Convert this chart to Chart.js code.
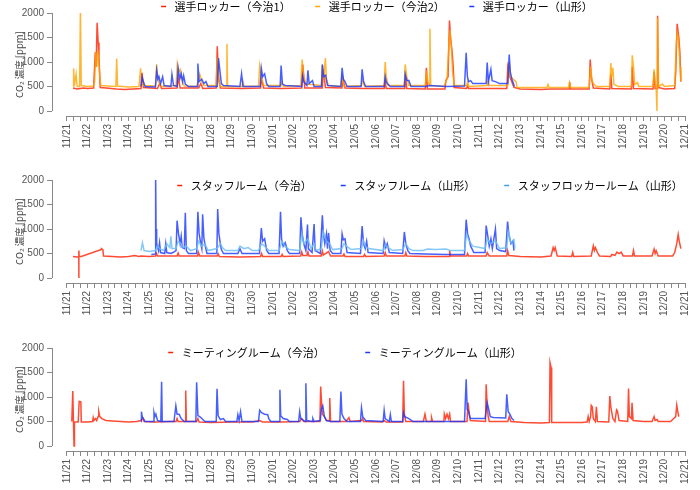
<!DOCTYPE html>
<html>
<head>
<meta charset="utf-8">
<script src="https://cdn.jsdelivr.net/npm/chart.js@4.4.1/dist/chart.umd.min.js"></script>
<style>
  html, body { margin: 0; padding: 0; background: #fff; }
  #wrap { position: relative; width: 700px; height: 490px; overflow: hidden; }
  .panel { position: absolute; left: 0; width: 700px; height: 163px; }
</style>
</head>
<body>
<div id="wrap">
  <div class="panel" style="top:0px"><canvas id="c1" width="700" height="163"></canvas></div>
  <div class="panel" style="top:167px"><canvas id="c2" width="700" height="163"></canvas></div>
  <div class="panel" style="top:335px"><canvas id="c3" width="700" height="163"></canvas></div>
</div>
<script>
// x = days since 11/21 00:00, y = ppm
const dateLabels = ['11/21','11/22','11/23','11/24','11/25','11/26','11/27','11/28','11/29','11/30',
  '12/01','12/02','12/03','12/04','12/05','12/06','12/07','12/08','12/09','12/10',
  '12/11','12/12','12/13','12/14','12/15','12/16','12/17','12/18','12/19','12/20','12/21'];
const yTicks = [0, 500, 1000, 1500, 2000];

// panel 1 : 選手ロッカー
const lockerImabari1 = [[0.3,470],[0.5,450],[0.8,470],[1.0,460],[1.3,470],[1.38,1200],[1.42,900],[1.47,1800],[1.52,1400],[1.56,1100],[1.62,480],
  [1.9,470],[2.4,450],[2.8,440],[3.2,450],[3.6,460],[3.65,780],[3.72,480],[4.4,460],[4.5,560],[4.6,460],[5.35,470],[5.4,680],[5.5,470],
  [6.4,470],[6.5,560],[6.6,460],[7.25,470],[7.3,1320],[7.36,700],[7.45,470],[8.5,460],[9.4,470],[9.45,650],[9.55,470],[10.4,460],
  [11.4,470],[11.45,950],[11.55,470],[12.4,470],[12.45,850],[12.55,480],[13.35,470],[13.4,650],[13.5,470],[14.4,460],[15.4,460],[15.45,600],
  [15.5,460],[16.4,460],[16.45,650],[16.5,460],[17.4,450],[17.45,880],[17.5,450],[18.35,450],[18.4,630],[18.5,700],[18.57,1845],[18.62,1500],
  [18.7,1200],[18.75,900],[18.8,480],[19.4,460],[19.45,520],[19.5,460],[20.4,460],[21.35,460],[21.4,900],[21.5,700],[21.7,480],[22.0,450],
  [23.0,440],[23.5,450],[24.38,450],[24.4,590],[24.45,450],[25.35,450],[25.4,1050],[25.45,700],[25.55,470],[26.35,450],[26.4,750],[26.45,460],
  [27.4,450],[27.44,900],[27.5,460],[28.45,450],[28.5,800],[28.55,460],[28.65,460],[28.67,1945],[28.7,480],[29.0,450],[29.5,460],
  [29.55,800],[29.62,1780],[29.7,1500],[29.75,1200],[29.8,600]];
const lockerImabari2 = [[0.3,500],[0.33,870],[0.37,520],[0.45,750],[0.5,500],[0.62,500],[0.66,2080],[0.7,520],[1.0,500],[1.3,510],[1.35,600],
  [1.4,1200],[1.45,900],[1.5,1250],[1.55,1000],[1.6,700],[1.65,520],[2.0,510],[2.38,500],[2.42,1070],[2.46,510],[3.0,490],[3.5,500],[3.58,870],
  [3.62,600],[3.7,520],[4.3,510],[4.36,950],[4.42,650],[4.5,560],[4.6,500],[5.3,520],[5.36,950],[5.42,800],[5.5,850],[5.6,600],[5.7,510],
  [6.3,500],[6.45,750],[6.55,600],[6.65,520],[7.25,520],[7.3,1080],[7.36,650],[7.45,500],[7.74,500],[7.77,1370],[7.8,500],[8.5,500],[8.55,600],
  [8.6,500],[9.3,510],[9.36,930],[9.45,700],[9.55,520],[10.4,520],[10.45,600],[10.5,500],[11.35,520],[11.42,1050],[11.48,750],[11.6,550],
  [12.35,520],[12.4,950],[12.47,700],[12.55,1080],[12.6,650],[12.7,520],[13.3,500],[13.35,700],[13.45,500],[14.3,520],[14.35,620],[14.45,500],
  [15.4,520],[15.45,1000],[15.5,700],[15.6,520],[16.38,520],[16.42,950],[16.5,700],[16.6,520],[17.4,520],[17.46,820],[17.52,600],[17.6,520],
  [17.62,1680],[17.66,520],[18.3,500],[18.45,650],[18.55,1400],[18.6,1650],[18.66,1300],[18.72,800],[18.8,520],[19.4,520],[19.45,600],
  [19.5,500],[20.4,520],[20.45,650],[20.5,520],[21.4,520],[21.47,1000],[21.52,700],[21.8,600],[21.85,480],[22.5,480],[23.3,480],[23.35,540],
  [23.4,480],[24.35,480],[24.4,580],[24.45,480],[25.35,480],[25.42,900],[25.48,650],[25.55,560],[25.7,500],[26.35,500],[26.4,980],[26.45,700],
  [26.5,880],[26.55,550],[26.75,500],[27.4,500],[27.44,1135],[27.5,900],[27.56,540],[27.7,580],[27.75,500],[28.45,500],[28.5,850],[28.56,550],
  [28.6,500],[28.64,0],[28.67,1900],[28.72,500],[28.9,550],[29.0,500],[29.5,520],[29.58,1400],[29.62,1600],[29.68,1500],[29.72,1200],
  [29.76,900],[29.8,600]];
const lockerYamagata = [[3.6,500],[3.65,700],[3.7,620],[3.8,500],[4.3,490],[4.36,830],[4.42,650],[4.47,700],[4.55,560],[4.65,700],[4.72,520],
  [5.05,500],[5.1,750],[5.18,520],[5.35,500],[5.4,880],[5.48,650],[5.55,760],[5.62,600],[5.67,720],[5.75,550],[5.9,500],[6.32,500],[6.36,970],
  [6.42,600],[6.55,650],[6.65,560],[6.75,600],[6.85,500],[7.3,500],[7.36,1080],[7.42,850],[7.5,560],[7.6,520],[8.4,500],[8.48,760],[8.55,500],
  [9.38,500],[9.44,870],[9.5,700],[9.6,760],[9.7,550],[9.8,500],[10.35,500],[10.4,930],[10.46,550],[10.6,520],[11.4,500],[11.44,720],
  [11.5,600],[11.65,520],[11.7,830],[11.76,560],[11.92,620],[12.0,500],[12.36,500],[12.4,950],[12.46,700],[12.56,730],[12.65,520],[13.3,500],
  [13.36,880],[13.42,650],[13.5,600],[13.6,500],[14.28,500],[14.33,850],[14.4,600],[14.5,500],[15.4,500],[15.45,700],[15.5,600],[15.55,560],
  [15.7,500],[16.38,500],[16.42,750],[16.5,620],[16.6,620],[16.7,500],[17.4,500],[17.6,520],[18.4,500],[19.3,510],[19.38,1190],[19.44,700],
  [19.5,600],[19.6,620],[19.7,560],[20.35,560],[20.4,990],[20.46,600],[20.58,850],[20.64,620],[20.8,600],[21.0,560],[21.4,560],[21.47,1150],
  [21.52,800],[21.6,650],[21.72,500]];

// panel 2 : スタッフルーム
const staffImabari = [[0.3,440],[0.5,430],[0.58,430],[0.58,0],[0.59,560],[0.6,440],[0.7,440],[1.67,580],[1.68,600],[1.75,580],[1.78,450],
  [2.2,440],[2.6,430],[3.0,440],[3.3,460],[3.5,440],[3.6,450],[4.0,440],[4.3,450],[4.35,500],[4.4,450],[5.35,450],[5.4,510],[5.45,450],
  [6.35,450],[6.38,530],[6.45,450],[7.3,450],[7.35,490],[7.4,440],[8.4,430],[9.4,440],[9.45,500],[9.5,440],[10.4,440],[10.45,480],[10.5,440],
  [11.35,450],[11.4,530],[11.45,460],[11.65,460],[11.7,530],[11.75,450],[12.35,450],[12.4,550],[12.45,470],[12.7,540],[12.8,450],[13.4,450],
  [13.45,490],[13.5,440],[14.4,440],[14.45,480],[14.5,440],[15.4,450],[15.45,520],[15.5,450],[16.4,450],[16.45,520],[16.5,450],[17.4,440],
  [18.55,440],[18.58,560],[18.62,450],[19.4,450],[19.45,500],[19.5,450],[20.35,450],[20.4,520],[20.5,450],[21.35,450],[21.39,560],[21.45,460],
  [22.0,440],[23.0,430],[23.5,450],[23.6,620],[23.65,560],[23.7,620],[23.8,450],[24.5,440],[24.55,520],[24.6,440],[25.45,450],[25.55,655],
  [25.6,560],[25.65,620],[25.75,520],[25.85,450],[26.4,440],[26.45,480],[26.6,460],[26.7,530],[26.8,500],[26.9,530],[27.0,450],[27.45,450],
  [27.5,560],[27.55,450],[28.4,450],[28.5,590],[28.55,500],[28.6,560],[28.7,450],[29.4,450],[29.5,520],[29.6,700],[29.67,890],[29.72,750],
  [29.8,600]];
const staffYamagata = [[4.1,480],[4.28,490],[4.31,2080],[4.33,1000],[4.36,700],[4.45,560],[4.5,720],[4.55,520],[4.75,500],[4.8,700],[4.85,520],
  [5.05,500],[5.15,520],[5.3,560],[5.35,1170],[5.42,900],[5.5,700],[5.55,850],[5.6,620],[5.7,600],[5.75,1330],[5.8,560],[5.9,500],[6.3,500],
  [6.36,1350],[6.42,900],[6.5,700],[6.55,600],[6.59,1300],[6.65,820],[6.72,650],[6.8,500],[7.28,500],[7.32,1410],[7.38,900],[7.45,700],
  [7.5,580],[7.6,500],[8.3,500],[8.4,600],[8.5,500],[9.35,500],[9.44,1020],[9.5,750],[9.6,800],[9.7,560],[9.8,500],[10.3,500],[10.37,1350],
  [10.42,800],[10.5,650],[10.6,720],[10.7,560],[10.8,500],[11.3,500],[11.36,1240],[11.42,900],[11.5,700],[11.6,560],[11.68,1090],[11.72,600],
  [11.9,520],[12.0,1100],[12.05,560],[12.3,500],[12.4,1280],[12.45,900],[12.52,700],[12.6,900],[12.65,600],[12.7,920],[12.78,560],[12.9,500],
  [13.3,500],[13.36,900],[13.42,780],[13.5,800],[13.6,520],[14.25,500],[14.33,1060],[14.4,700],[14.48,600],[14.55,750],[14.62,520],[15.35,500],
  [15.4,760],[15.48,620],[15.55,700],[15.65,520],[16.3,500],[16.38,940],[16.45,700],[16.55,560],[16.65,500],[17.4,490],[18.4,480],[19.3,480],
  [19.38,1190],[19.45,900],[19.52,800],[19.6,650],[19.75,520],[20.3,520],[20.35,1070],[20.42,880],[20.5,650],[20.58,800],[20.65,600],
  [20.8,1000],[20.86,600],[21.0,560],[21.3,540],[21.39,1150],[21.45,900],[21.55,700],[21.65,760],[21.7,560]];
const staffLockerYamagata = [[3.6,560],[3.67,720],[3.75,560],[4.0,540],[4.3,560],[4.4,650],[4.5,600],[4.7,560],[4.85,700],[5.0,620],[5.05,850],
  [5.1,600],[5.3,600],[5.4,750],[5.55,700],[5.65,620],[5.8,650],[6.0,560],[6.3,600],[6.4,750],[6.55,650],[6.7,700],[6.85,560],[7.3,600],
  [7.45,700],[7.55,620],[7.7,560],[8.3,560],[8.4,650],[8.6,600],[8.8,620],[9.0,560],[9.3,560],[9.45,700],[9.6,650],[9.8,560],[10.3,560],
  [10.45,750],[10.6,640],[10.8,580],[11.3,560],[11.4,900],[11.5,700],[11.7,800],[11.85,600],[12.0,700],[12.1,560],[12.35,600],[12.45,950],
  [12.6,750],[12.75,700],[12.9,580],[13.35,600],[13.45,700],[13.6,640],[13.8,580],[14.3,600],[14.4,760],[14.5,640],[14.65,600],[15.35,560],
  [15.45,680],[15.6,620],[15.8,560],[16.3,580],[16.45,700],[16.6,600],[16.8,560],[17.3,560],[17.5,590],[17.9,580],[18.4,590],[18.6,560],
  [19.3,560],[19.4,900],[19.5,780],[19.7,650],[20.3,600],[20.4,800],[20.55,700],[20.8,760],[21.0,600],[21.35,620],[21.42,950],[21.55,720],
  [21.7,780],[21.75,600]];

// panel 3 : ミーティングルーム
const meetingImabari = [[0.24,500],[0.29,1120],[0.32,500],[0.35,0],[0.37,490],[0.55,490],[0.6,910],[0.68,900],[0.7,490],[1.0,490],[1.25,500],
  [1.28,580],[1.32,520],[1.4,560],[1.45,520],[1.52,600],[1.55,700],[1.6,600],[1.7,560],[1.9,520],[2.2,510],[2.6,500],[3.0,490],[3.4,500],
  [3.6,520],[3.68,570],[3.75,500],[4.3,490],[5.0,500],[5.3,500],[5.35,560],[5.4,500],[5.74,500],[5.77,1135],[5.8,500],[6.3,500],[6.36,560],
  [6.42,490],[7.0,480],[8.0,490],[9.0,490],[9.36,520],[9.5,490],[10.4,490],[11.3,500],[11.4,560],[11.5,500],[12.28,500],[12.32,1215],
  [12.36,900],[12.4,650],[12.5,600],[12.6,520],[12.73,520],[12.76,980],[12.8,500],[13.2,500],[13.55,500],[13.69,580],[13.75,500],[14.3,520],
  [14.35,560],[14.4,500],[15.3,490],[15.4,520],[15.5,490],[16.3,490],[16.34,1330],[16.38,650],[16.45,500],[17.3,500],[17.38,650],[17.45,500],
  [17.68,500],[17.7,580],[17.75,500],[18.3,500],[18.32,650],[18.38,560],[18.45,650],[18.52,560],[18.58,650],[18.62,500],[19.42,500],
  [19.47,885],[19.52,700],[19.58,520],[20.32,500],[20.35,1260],[20.4,800],[20.45,600],[20.5,500],[21.4,500],[21.47,600],[21.55,500],
  [22.2,480],[23.0,470],[23.42,480],[23.45,1700],[23.5,1600],[23.53,480],[24.0,480],[25.0,480],[25.25,490],[25.3,600],[25.35,500],[25.42,600],
  [25.45,830],[25.5,800],[25.55,560],[25.65,500],[25.7,800],[25.75,500],[26.3,490],[26.35,1020],[26.4,800],[26.5,560],[26.6,500],[26.68,740],
  [26.72,720],[26.8,520],[27.22,500],[27.26,1175],[27.3,600],[27.4,560],[27.43,880],[27.48,520],[28.0,500],[28.4,500],[28.5,600],[28.55,520],
  [28.65,540],[28.7,500],[29.3,500],[29.45,560],[29.55,600],[29.6,830],[29.65,700],[29.7,600]];
const meetingYamagata = [[3.6,500],[3.62,700],[3.66,600],[3.72,560],[3.8,500],[4.2,500],[4.23,680],[4.27,600],[4.32,650],[4.4,520],[4.56,500],
  [4.6,1310],[4.63,500],[5.2,500],[5.29,820],[5.35,650],[5.45,650],[5.55,560],[5.7,500],[6.26,500],[6.3,1300],[6.36,620],[6.45,600],
  [6.55,560],[6.7,500],[7.25,500],[7.29,1170],[7.34,620],[7.45,540],[7.6,560],[7.7,500],[8.25,500],[8.3,640],[8.36,520],[8.43,700],[8.5,500],
  [9.3,500],[9.36,730],[9.45,680],[9.6,650],[9.75,640],[9.8,560],[9.9,500],[10.3,500],[10.34,1150],[10.38,620],[10.5,560],[10.7,540],
  [10.8,500],[11.25,500],[11.3,700],[11.35,560],[11.5,520],[11.56,500],[11.6,1280],[11.64,520],[11.9,500],[11.94,560],[12.0,500],[12.3,520],
  [12.35,750],[12.42,820],[12.5,600],[12.6,520],[12.8,500],[13.25,500],[13.3,1110],[13.35,650],[13.45,560],[13.6,500],[14.25,500],[14.3,780],
  [14.36,600],[14.5,520],[15.35,500],[15.4,730],[15.45,560],[15.65,500],[15.7,640],[15.75,500],[16.3,500],[16.34,680],[16.4,600],[16.6,560],
  [16.8,500],[17.4,500],[18.4,500],[19.3,500],[19.38,1360],[19.43,750],[19.5,700],[19.55,600],[19.6,560],[20.3,560],[20.4,885],[20.45,800],
  [20.55,600],[20.7,580],[21.3,570],[21.35,1055],[21.42,700],[21.5,650],[21.6,560],[21.7,520]];

const RED = 'rgba(255,30,0,0.8)', ORANGE = 'rgba(255,165,0,0.8)', BLUE = 'rgba(25,55,255,0.8)', SKY = 'rgba(110,190,245,0.85)';
const SANS = '"Liberation Sans", Arial, sans-serif';
const JP = '"Noto Sans CJK JP", sans-serif';

// R-style axis lines, legend placed over the plot without taking layout space
const rAxes = {
  id: 'rAxes',
  beforeDraw(chart, args, opts) {
    const lg = chart.legend, ca = chart.chartArea;
    if (lg) {
      lg.left = ca.left + opts.dx; lg.right = ca.right + opts.dx;
      lg.top = ca.top + opts.dy; lg.bottom = lg.top + 100;
      lg.height = 100;
    }
  },
  beforeDatasetsDraw(chart) {
    const {ctx, chartArea, scales: {x, y}} = chart;
    ctx.save();
    ctx.strokeStyle = '#888';
    ctx.lineWidth = 1;
    ctx.beginPath();
    const xl = Math.round(chartArea.left) + 0.5;
    ctx.moveTo(xl, y.getPixelForValue(0));
    ctx.lineTo(xl, y.getPixelForValue(2000));
    const yb = Math.round(chartArea.bottom) + 0.5;
    ctx.moveTo(x.getPixelForValue(0), yb);
    ctx.lineTo(x.getPixelForValue(30), yb);
    ctx.stroke();
    ctx.restore();
  }
};

function makeChart(id, series, shift) {
  return new Chart(document.getElementById(id), {
    type: 'line',
    data: {
      datasets: series.map(s => ({
        label: s.label,
        data: s.data.map(p => ({x: p[0], y: p[1]})),
        borderColor: s.color,
        legendColor: s.solid,
        borderWidth: 1.5,
        pointRadius: 0,
        fill: false,
        tension: 0,
        order: s.order
      }))
    },
    options: {
      responsive: false,
      animation: false,
      devicePixelRatio: 1,
      layout: {padding: {top: 13, left: 0, right: 0, bottom: 0}},
      scales: {
        x: {
          type: 'linear', min: -0.72, max: 30.48,
          afterBuildTicks: s => { s.ticks = []; for (let i = 0; i <= 90; i++) s.ticks.push({value: i / 3}); },
          afterFit: s => { s.height = 47; },
          grid: {drawOnChartArea: false, tickLength: 5, color: '#888'},
          border: {display: false},
          ticks: {
            autoSkip: false, minRotation: 90, maxRotation: 90, padding: 3, color: '#555',
            font: {size: 10, family: SANS},
            callback: (v, i) => (i % 3 === 0 ? dateLabels[i / 3] : '')
          }
        },
        y: {
          min: -102, max: 2000,
          afterBuildTicks: s => { s.ticks = yTicks.map(v => ({value: v})); },
          afterFit: s => { s.width = 52; },
          grid: {drawOnChartArea: false, tickLength: 5, color: '#888'},
          border: {display: false},
          ticks: {padding: 3, color: '#555', font: {size: 10, family: SANS}, callback: v => String(v)},
          title: {display: true, text: 'CO₂ 濃度 [ppm]', color: '#444', font: {size: 9.5, family: JP}, padding: {top: 14, bottom: 0}}
        }
      },
      plugins: {
        tooltip: {enabled: false},
        rAxes: shift,
        legend: {
          position: 'top',
          align: 'center',
          maxHeight: 0.01,
          labels: {
            usePointStyle: true, pointStyle: 'line', boxWidth: 11, boxHeight: 3.5,
            padding: shift.pad, color: '#000', font: {size: 11, family: JP},
            sort: (a, b) => a.datasetIndex - b.datasetIndex,
            generateLabels: chart => Chart.defaults.plugins.legend.labels.generateLabels(chart).map(l => {
              const ds = chart.data.datasets[l.datasetIndex];
              return Object.assign(l, {strokeStyle: ds.legendColor, fillStyle: ds.legendColor, lineWidth: 1.5});
            })
          }
        }
      }
    },
    plugins: [rAxes]
  });
}

makeChart('c1', [
  {label: '選手ロッカー（今治1）', data: lockerImabari1, color: RED, solid: '#ff2000', order: 3},
  {label: '選手ロッカー（今治2）', data: lockerImabari2, color: ORANGE, solid: '#ffa500', order: 2},
  {label: '選手ロッカー（山形）', data: lockerYamagata, color: BLUE, solid: '#1a3cff', order: 1}
], {dx: 2, dy: -33.5, pad: 21.5});

makeChart('c2', [
  {label: 'スタッフルーム（今治）', data: staffImabari, color: RED, solid: '#ff2000', order: 3},
  {label: 'スタッフルーム（山形）', data: staffYamagata, color: BLUE, solid: '#1a3cff', order: 2},
  {label: 'スタッフロッカールーム（山形）', data: staffLockerYamagata, color: SKY, solid: '#3a9ee8', order: 1}
], {dx: 55, dy: -26, pad: 26});

makeChart('c3', [
  {label: 'ミーティングルーム（今治）', data: meetingImabari, color: RED, solid: '#ff2000', order: 2},
  {label: 'ミーティングルーム（山形）', data: meetingYamagata, color: BLUE, solid: '#1a3cff', order: 1}
], {dx: -30, dy: -38.5, pad: 37.5});
</script>
</body>
</html>
